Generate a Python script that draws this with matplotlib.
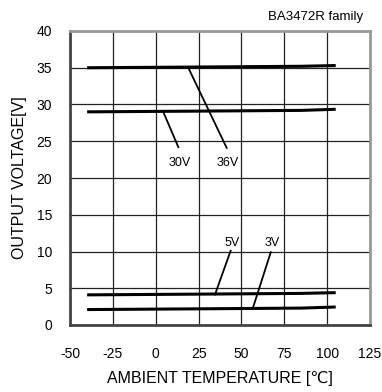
import matplotlib
matplotlib.use("Agg")
import matplotlib.pyplot as plt

plt.rcParams['font.family'] = ['Liberation Sans', 'DejaVu Sans']
plt.rcParams['axes.unicode_minus'] = False

# Output voltage vs. ambient temperature for each supply voltage
temperature = [-40, 25, 85, 105]
vout_36v = [35.0, 35.1, 35.2, 35.3]
vout_30v = [29.0, 29.1, 29.2, 29.35]
vout_5v = [4.1, 4.2, 4.3, 4.4]
vout_3v = [2.1, 2.2, 2.3, 2.45]

# Callout labels: (text, point on curve, leader end, text position)
callouts = [
    ("36V", (19.0, 35.0), (41.4, 24.1), (42.0, 22.0)),
    ("30V", (4.4, 29.0), (13.2, 24.2), (14.0, 22.0)),
    ("5V", (34.6, 4.15), (43.7, 10.1), (44.8, 11.2)),
    ("3V", (56.6, 2.25), (67.1, 9.9), (68.1, 11.2)),
]

x_ticks = [-50, -25, 0, 25, 50, 75, 100, 125]
y_ticks = [0, 5, 10, 15, 20, 25, 30, 35, 40]

fig = plt.figure(figsize=(3.82, 3.92), dpi=100)
ax = fig.add_axes([70 / 382, 1 - 325 / 392, 300 / 382, 294 / 392])

for series in (vout_36v, vout_30v, vout_5v, vout_3v):
    ax.plot(temperature, series, color='black', lw=2.2, solid_capstyle='butt', zorder=3)

for text, p0, p1, ptxt in callouts:
    ax.plot([p0[0], p1[0]], [p0[1], p1[1]], color='black', lw=1.3, zorder=3)
    ax.text(ptxt[0], ptxt[1], text, ha='center', va='center', fontsize=9)

ax.set_xlim(-50, 125)
ax.set_ylim(0, 40)
ax.set_xticks(x_ticks)
ax.set_yticks(y_ticks)
ax.grid(True, color='#222222', lw=0.9)
ax.set_axisbelow(True)
ax.tick_params(length=0, labelsize=10)
ax.tick_params(axis='x', pad=16)
ax.tick_params(axis='y', pad=13)

ax.spines['left'].set_color('#444444')
ax.spines['bottom'].set_color('#444444')
ax.spines['left'].set_linewidth(2)
ax.spines['bottom'].set_linewidth(2)
ax.spines['top'].set_color('#999999')
ax.spines['right'].set_color('#999999')
ax.spines['top'].set_linewidth(2)
ax.spines['right'].set_linewidth(2)

ax.set_xlabel('AMBIENT TEMPERATURE [℃]', fontsize=11.5, labelpad=7)
ax.set_ylabel('OUTPUT VOLTAGE[V]', fontsize=11.5, labelpad=7)

fig.text(363 / 382, 1 - 17 / 392, 'BA3472R family', ha='right', va='center', fontsize=9.5)

fig.savefig('out.png', dpi=100)
